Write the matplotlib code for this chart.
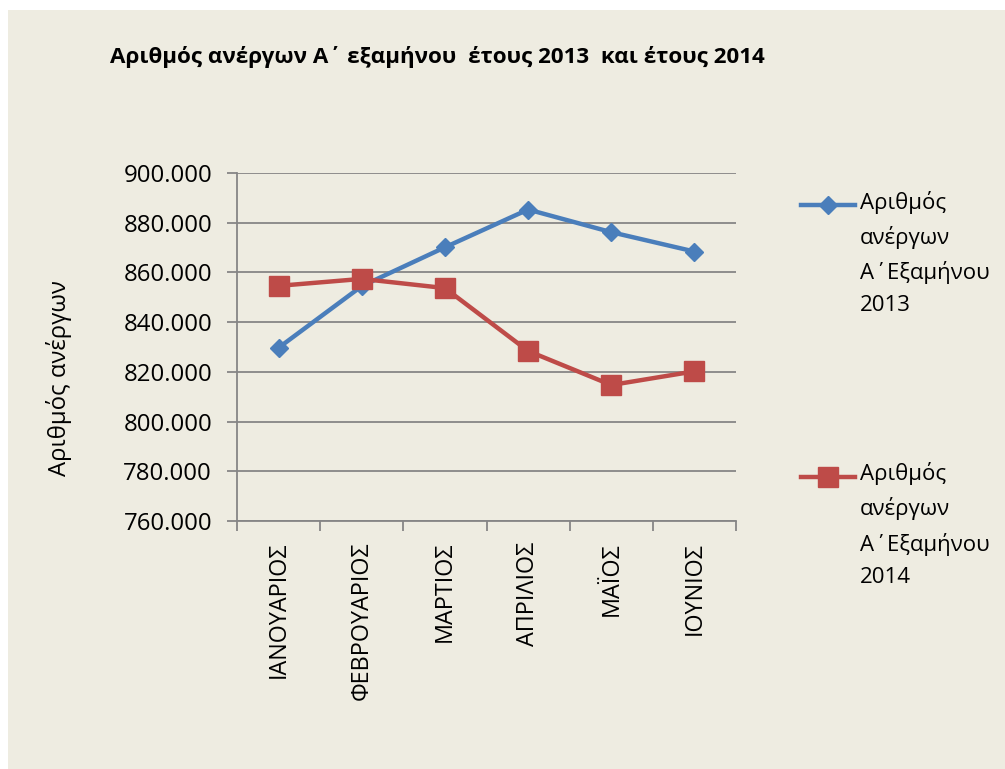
import matplotlib.pyplot as plt
from matplotlib.patches import Rectangle
from matplotlib.ticker import FuncFormatter

plt.rcParams['font.family'] = ['Open Sans', 'DejaVu Sans']

months = ['ΙΑΝΟΥΑΡΙΟΣ', 'ΦΕΒΡΟΥΑΡΙΟΣ', 'ΜΑΡΤΙΟΣ', 'ΑΠΡΙΛΙΟΣ', 'ΜΑΪΟΣ', 'ΙΟΥΝΙΟΣ']
unemployed_2013 = [829700, 854500, 870100, 885300, 876200, 868400]
unemployed_2014 = [854600, 857400, 853700, 828400, 814700, 820200]
label_2013 = 'Αριθμός\nανέργων\nΑ΄Εξαμήνου\n2013'
label_2014 = 'Αριθμός\nανέργων\nΑ΄Εξαμήνου\n2014'
y_ticks = [760000, 780000, 800000, 820000, 840000, 860000, 880000, 900000]

bg = '#eeece1'
grid_col = '#868686'
W, H = 1005, 769

fig = plt.figure(figsize=(W / 100, H / 100), dpi=100)
fig.patch.set_facecolor('white')
fig.patches.append(Rectangle((8 / W, 0), 1, 1 - 10 / H, transform=fig.transFigure,
                             facecolor=bg, edgecolor='none', zorder=-10))

ax = fig.add_axes([237 / W, 1 - 521 / H, (736 - 237) / W, (521 - 173) / H])
ax.set_facecolor(bg)

x = range(len(months))
l1, = ax.plot(x, unemployed_2013, color='#4a7ebb', lw=3.2, marker='D', ms=9.5,
              solid_joinstyle='round', zorder=3)
l2, = ax.plot(x, unemployed_2014, color='#be4b48', lw=3.2, marker='s', ms=14,
              solid_joinstyle='round', zorder=3)

ax.set_xlim(-0.5, len(months) - 0.5)
ax.set_ylim(760000, 900000)
ax.set_yticks(y_ticks)
ax.yaxis.set_major_formatter(FuncFormatter(lambda v, p: f'{int(v):,}'.replace(',', '.')))
ax.set_xticks([i - 0.5 for i in range(len(months) + 1)], minor=False)
ax.set_xticklabels([])
ax.set_xticks(list(x), minor=True)
ax.set_xticklabels(months, minor=True, rotation=90, fontsize=16.8)
ax.tick_params(axis='x', which='minor', length=0, pad=15)
ax.tick_params(axis='x', which='major', length=7, width=1.3, color=grid_col, direction='out')
ax.tick_params(axis='y', length=7, width=1.3, color=grid_col, labelsize=17.3, pad=11)
ax.grid(axis='y', color=grid_col, lw=1.3)
ax.set_axisbelow(True)
for s in ['top', 'right']:
    ax.spines[s].set_visible(False)
for s in ['left', 'bottom']:
    ax.spines[s].set_color(grid_col)
    ax.spines[s].set_linewidth(1.3)

ax.set_ylabel('Αριθμός ανέργων', fontsize=17.2)
ax.yaxis.set_label_coords(-0.33, 0.41)

fig.text(110 / W, 1 - 57 / H, 'Αριθμός ανέργων Α΄ εξαμήνου  έτους 2013  και έτους 2014',
         fontsize=16.1, fontweight='bold', va='center', ha='left')

# blank lines on top so the handle sits beside the first text line
leg = fig.legend([l1, l2], ['\n\n\n' + label_2013, '\n\n\n' + label_2014],
                 loc='upper left', bbox_to_anchor=(801 / W, 1 - 94 / H),
                 frameon=False, fontsize=16, handlelength=2.45, handletextpad=0.2,
                 labelspacing=2.2, borderpad=0, borderaxespad=0)
for t in leg.get_texts():
    t.set_linespacing(1.68)

fig.savefig('out.png', dpi=100, facecolor=fig.get_facecolor())
